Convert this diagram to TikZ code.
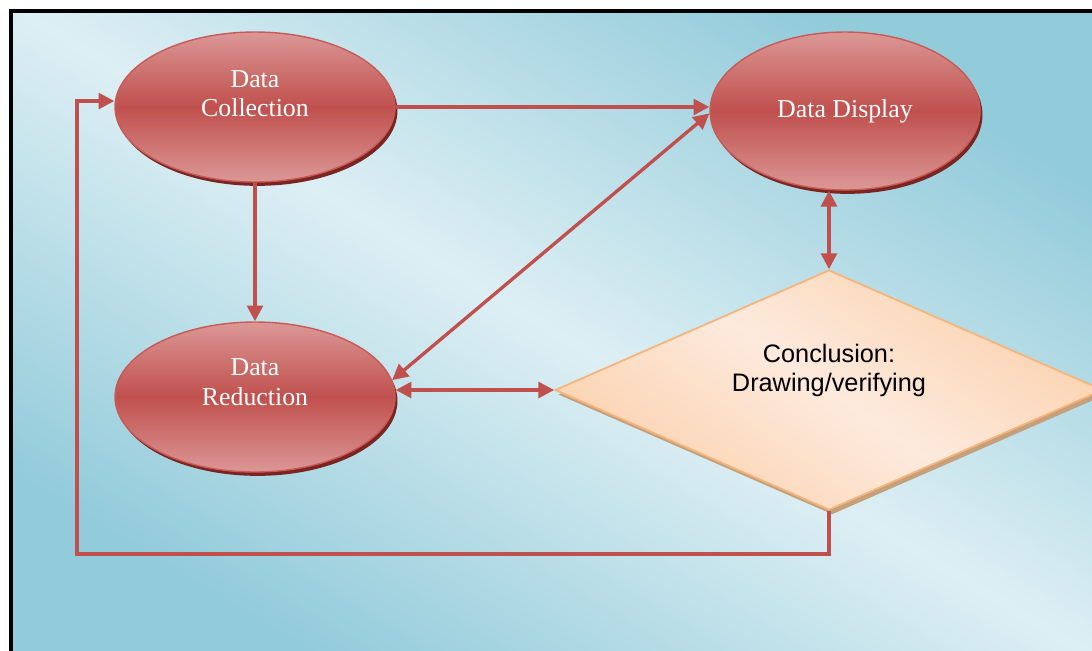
\documentclass[tikz,border=0pt]{standalone}
\usepackage{fontspec}
\setmainfont{Liberation Serif}
\setsansfont{Liberation Sans}
\usetikzlibrary{shapes.geometric,arrows.meta,shadows}

\definecolor{bgdark}{HTML}{92CBDA}
\definecolor{bglight}{HTML}{DDEFF4}
\definecolor{ovalmid}{HTML}{C0504D}
\definecolor{ovaledge}{HTML}{DB9896}
\definecolor{ovalline}{HTML}{C85A57}
\definecolor{ovalshadow}{HTML}{7A2522}
\definecolor{linkred}{HTML}{C0504D}
\definecolor{peachdark}{HTML}{FBD2AE}
\definecolor{peachlight}{HTML}{FDEADD}
\definecolor{peachline}{HTML}{F7B47A}
\definecolor{peachshadow}{HTML}{C4A07C}

% two centred lines, lifted by half of the extra depth given in #1
\newcommand{\liftedtext}[3]{\raisebox{0pt}[\height][\dimexpr\depth+#1\relax]{\begin{tabular}{@{}c@{}}#2\\#3\end{tabular}}}

\begin{document}
\begin{tikzpicture}[x=0.02cm,y=-0.02cm,
  stage/.style={ellipse, draw=ovalline, line width=0.8pt,
    top color=ovaledge, bottom color=ovaledge, middle color=ovalmid,
    minimum width=5.6cm, minimum height=3cm, inner sep=0pt,
    text=white, font=\fontsize{14.7}{17}\selectfont,
    drop shadow={shadow xshift=1.4pt, shadow yshift=-2.2pt, fill=ovalshadow, opacity=1}},
  decision/.style={diamond, draw=peachline, line width=1pt,
    top color=peachdark, bottom color=peachdark, middle color=peachlight,
    shading angle=-35, shape aspect=2.28,
    minimum width=10.96cm, minimum height=4.8cm, inner sep=0pt,
    font=\sffamily\fontsize{14.4}{16.5}\selectfont,
    drop shadow={shadow xshift=1.8pt, shadow yshift=-2.6pt, fill=peachshadow, opacity=1}},
  link/.style={draw=linkred, line width=1.9pt},
  tip/.tip={Triangle[length=9pt,width=9pt]}]

% page and framed background
\useasboundingbox (0,0) rectangle (1092,650);
\clip (0,0) rectangle (1092,650);
\fill[white] (0,0) rectangle (1092,650);
\shade[top color=bgdark, bottom color=bgdark, middle color=bglight, shading angle=-31]
  (11,11) rectangle (1092,650);
\draw[black, line width=2.2pt] (11,652) -- (11,11) -- (1094,11);

% stages
\node[stage] (dc) at (255,107) {\liftedtext{12.5pt}{Data}{Collection}};
\node[stage, minimum width=5.4cm, minimum height=3.16cm] (dd) at (845,111) {Data Display};
\node[stage] (dr) at (255,397) {\liftedtext{14.5pt}{Data}{Reduction}};
\node[decision] (cd) at (829,390) {\liftedtext{21pt}{Conclusion:}{Drawing/verifying}};

% flow between the stages
\coordinate (fb) at (77,554);
\path[link, -{tip}] (dc.east) -- (dc.east -| dd.west);
\path[link, -{tip}] (dc.south) -- (dr.north);
\path[link, {tip}-{tip}] (dr.7) -- (dd.181);
\path[link, {tip}-{tip}] (cd.west -| dr.east) -- (cd.west);
\path[link, {tip}-{tip}] (cd.north |- dd.south) -- (cd.north);
\path[link, -{tip}] (cd.south) -- (cd.south |- fb) -- (fb) |- ([yshift=3.4pt]dc.west);

\end{tikzpicture}
\end{document}
